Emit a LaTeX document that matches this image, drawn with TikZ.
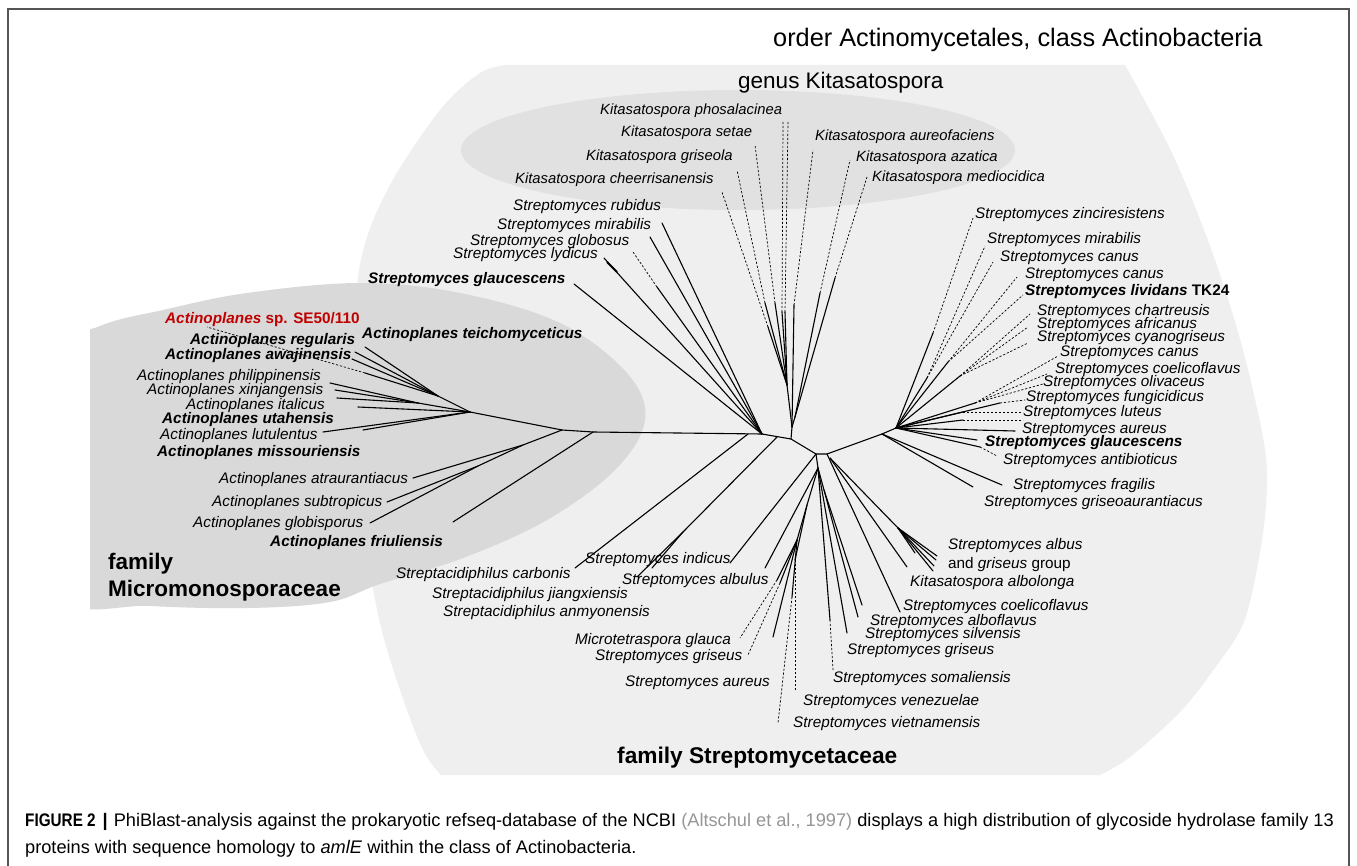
\documentclass[tikz,border=0pt]{standalone}
\usepackage{fontspec}
\setmainfont{Liberation Sans}
\newfontfamily\figfont[FakeStretch=0.84,BoldFont={Liberation Sans Bold}]{Liberation Sans}
\definecolor{lightbg}{RGB}{239,239,239}
\definecolor{darkbg}{RGB}{217,217,217}
\definecolor{kitabg}{RGB}{225,225,225}
\definecolor{redlab}{RGB}{192,0,0}
\definecolor{framec}{RGB}{85,85,85}
\definecolor{citec}{RGB}{150,150,150}
\begin{document}
\begin{tikzpicture}[x=1pt,y=-1pt,
  br/.style={line width=1.1pt, line cap=round, line join=round},
  dl/.style={line width=0.7pt, dash pattern=on 2.2pt off 1.8pt},
  lab/.style={font=\fontsize{15.3}{18}\selectfont\itshape, inner sep=0pt, text height=10pt, text depth=2.8pt, anchor=west},
  klab/.style={lab, font=\fontsize{14.8}{18}\selectfont\itshape},
  blab/.style={lab, font=\fontsize{15.3}{18}\selectfont\bfseries\itshape},
  big/.style={font=\fontsize{22.5}{27}\selectfont, inner sep=0pt, anchor=west},
  bigb/.style={font=\fontsize{22.7}{27}\selectfont\bfseries, inner sep=0pt, anchor=west},
  captxt/.style={font=\fontsize{18.2}{21}\selectfont, inner sep=0pt, anchor=west, text height=12.5pt, text depth=3.8pt}]
\useasboundingbox (0,0) rectangle (1357,866);
\fill[white] (0,0) rectangle (1357,866);
% backgrounds
\fill[lightbg] (507,65) -- (1125,65) -- plot[smooth, tension=0.55] coordinates {(1125,65) (1172,153) (1210,246) (1240,339) (1262,432) (1267,480) (1262,540) (1245,619) (1217,665) (1180,712) (1130,757) (1100,775)} -- (441,775) -- plot[smooth, tension=0.55] coordinates {(441,775) (423,750) (400,690) (380,623) (365,540) (355,450) (352,350) (362,255) (390,185) (440,110) (480,73) (507,65)} -- cycle;
\begin{scope}
\clip (90,0) rectangle (1357,866);
\fill[darkbg] plot[smooth cycle, tension=0.6] coordinates {(40,360) (100,326) (163,310) (247,293) (360,283) (460,293) (560,323) (627,373) (645,420) (615,470) (547,520) (463,558) (380,584) (330,602) (250,608) (150,606) (60,598) (20,480)};
\end{scope}
\fill[kitabg] (738,150) ellipse [x radius=277pt, y radius=60pt];
% frame
\draw[framec, line width=1.5pt] (8,866) -- (8,9) -- (1349,9) -- (1349,866);

% internal nodes
\coordinate (A) at (762,434);
\coordinate (B) at (791,439);
\coordinate (C) at (816,454);
\coordinate (D) at (827,454);
\coordinate (E) at (882,434);
\coordinate (F) at (896,428);
\coordinate (Q) at (777,437);
\coordinate (Cc) at (748,434);
\coordinate (Kb) at (792,427);
\coordinate (K1) at (787,385);
\coordinate (K2) at (795,417);
\coordinate (L0) at (593,432);
\coordinate (L1) at (562,430);
\coordinate (L2) at (470,412);
\coordinate (L3) at (438,396);
\coordinate (L4) at (418,403);
\coordinate (L5) at (523,445);
\coordinate (L6) at (478,466);
\coordinate (Jx) at (683,532);
\coordinate (Ct) at (818,468);
\coordinate (Sb) at (824,490);
\coordinate (M1) at (807,505);
\coordinate (M2) at (797,540);
\coordinate (N0) at (830,458);
\coordinate (N1) at (898,528);
\coordinate (R1) at (933,333);
\coordinate (R2) at (927,378);
\coordinate (R3) at (948,362);
\coordinate (R4) at (960,376);
\coordinate (R5) at (975,403);

% spine
\draw[br] (L2) -- (L1) -- (L0) -- (A) -- (B) -- (C) -- (D) -- (E) -- (F);
\draw[br] (B) -- (Kb);

% Kitasatospora
\draw[br] (Kb) -- (K1);
\draw[br] (Kb) -- (K2);
\draw[br] (K1) -- (768,327) coordinate (kc1); \draw[dl] (kc1) -- (722,192);
\draw[br] (K1) -- (765,303) coordinate (kc2); \draw[dl] (kc2) -- (737,170);
\draw[br] (K1) -- (775,303) coordinate (kc3); \draw[dl] (kc3) -- (755,145);
\draw[br] (K1) -- (782,312) coordinate (kc4); \draw[dl] (kc4) -- (783,122);
\draw[br] (K1) -- (785,312) coordinate (kc5); \draw[dl] (kc5) -- (788,122);
\draw[br] (Kb) -- (794,305) coordinate (kc6); \draw[dl] (kc6) -- (813,150);
\draw[br] (K2) -- (820,293) coordinate (kc7); \draw[dl] (kc7) -- (850,160);
\draw[br] (K2) -- (835,278) coordinate (kc8); \draw[dl] (kc8) -- (867,177);

% upper-left Streptomyces
\draw[br] (A) -- (574,284) coordinate (tGla);
\draw[br] (A) -- (604,258) coordinate (tLyd);
\draw[line width=2pt] (607,262) -- (617,272);
\draw[br] (A) -- (657,287) coordinate (tGlo); \draw[dl] (tGlo) -- (633,252);
\draw[br] (A) -- (650,237) coordinate (tMir);
\draw[br] (A) -- (662,223) coordinate (tRub);

% Actinoplanes
\draw[br] (L0) -- (453,522) coordinate (tFri);
\draw[br] (L1) -- (L5) -- (413,478) coordinate (tAtr);
\draw[br] (L5) -- (L6) -- (387,502) coordinate (tSub);
\draw[br] (L6) -- (370,523) coordinate (tGlb);
\draw[br] (L2) -- (L3);
\draw[br] (L3) -- (365,347) coordinate (tTei);
\draw[br] (L3) -- (355,352) coordinate (tReg);
\draw[br] (L3) -- (352,359) coordinate (tAwa);
\draw[br] (L3) -- (365,373) coordinate (tSE); \draw[dl] (tSE) -- (207,327);
\draw[br] (L2) -- (L4);
\draw[br] (L4) -- (330,383) coordinate (tPhi);
\draw[br] (L4) -- (335,390) coordinate (tXin);
\draw[br] (L4) -- (337,398) coordinate (tIta);
\draw[br] (L2) -- (358,407) coordinate (tIta2);
\draw[br] (L2) -- (323,432) coordinate (tUta);
\draw[br] (L2) -- (363,430) coordinate (tLut);

% bottom-left
\draw[br] (Cc) -- (575,568) coordinate (tCar);
\draw[br] (Q) -- (Jx) -- (637,577) coordinate (tJia);
\draw[br] (Jx) -- (652,568) coordinate (tAnm);
\draw[br] (C) -- (730,563) coordinate (tInd);
\draw[br] (C) -- (Ct);
\draw[br] (Ct) -- (765,568) coordinate (tAlbu);
\draw[br] (Ct) -- (M1) -- (M2);
\draw[br] (M2) -- (777,580) coordinate (tg1); \draw[dl] (tg1) -- (740,638);
\draw[br] (M2) -- (780,583) coordinate (tg2); \draw[dl] (tg2) -- (748,655);
\draw[br] (M2) -- (773,637) coordinate (tAur1);
\draw[br] (M1) -- (795,560) coordinate (tv1); \draw[dl] (tv1) -- (795,690);
\draw[br] (M2) -- (792,597) coordinate (tv2); \draw[dl] (tv2) -- (778,723);
\draw[br] (Ct) -- (830,620) coordinate (tSo); \draw[dl] (tSo) -- (833,670);
\draw[br] (Ct) -- (847,633) coordinate (tGri2);
\draw[br] (Ct) -- (Sb) -- (858,617) coordinate (tSil);
\draw[br] (Sb) -- (862,605) coordinate (tAlf);
\draw[br] (D) -- (900,612) coordinate (tCoe);
\draw[br] (N0) -- (907,567) coordinate (tAlb);
\draw[br] (N0) -- (N1);
\draw[br] (N1) -- (937,556);
\draw[br] (N1) -- (936,560);
\draw[br] (N1) -- (934,566);
\draw[br] (N1) -- (933,571);
\draw[br] (N1) -- (915,553);

% right cluster
\draw[br] (F) -- (R1); \draw[dl] (R1) -- (973,218);
\draw[br] (F) -- (R2); \draw[dl] (R2) -- (985,246); \draw[dl] (R2) -- (993,262);
\draw[br] (F) -- (R3); \draw[dl] (R3) -- (1017,277); \draw[dl] (R3) -- (1023,295);
\draw[br] (F) -- (R4); \draw[dl] (R4) -- (1030,314); \draw[dl] (R4) -- (1028,327); \draw[dl] (R4) -- (1028,343);
\draw[br] (F) -- (R5); \draw[dl] (R5) -- (1058,356); \draw[dl] (R5) -- (1047,374); \draw[dl] (R5) -- (1043,384);
\draw[br] (F) -- (1000,403) coordinate (rf); \draw[dl] (rf) -- (1025,400);
\draw[br] (F) -- (963,412) coordinate (rl1); \draw[dl] (rl1) -- (1023,412);
\draw[br] (F) -- (963,420) coordinate (rl2); \draw[dl] (rl2) -- (1023,420);
\draw[br] (F) -- (1015,431) coordinate (rAu);
\draw[br] (F) -- (977,440) coordinate (rGl);
\draw[br] (F) -- (980,447) coordinate (rAn); \draw[dl] (rAn) -- (997,456);
\draw[br] (E) -- (1002,485) coordinate (rFr);
\draw[br] (E) -- (973,487) coordinate (rGr);

% titles
\node[big, font=\fontsize{25.3}{30}\selectfont] (title) at (773,40) {order Actinomycetales, class Actinobacteria};
\node[big] (genus) at (738,83) {genus Kitasatospora};
\node[bigb] (famSt) at (617,758) {family Streptomycetaceae};
\node[bigb, align=left, font=\fontsize{22.5}{27}\selectfont\bfseries] (famMi) at (108,577) {family\\Micromonosporaceae};

% Kitasatospora labels
\node[klab] (kPhos) at (600,111) {Kitasatospora phosalacinea};
\node[klab] (kSet) at (621,133) {Kitasatospora setae};
\node[klab] (kGris) at (586,157) {Kitasatospora griseola};
\node[klab] (kChe) at (515,180) {Kitasatospora cheerrisanensis};
\node[klab] (kAur) at (815,137) {Kitasatospora aureofaciens};
\node[klab] (kAza) at (856,158) {Kitasatospora azatica};
\node[klab] (kMed) at (872,178) {Kitasatospora mediocidica};

% upper-left labels
\node[lab] (sRub) at (513,207) {Streptomyces rubidus};
\node[lab] (sMir) at (497,226) {Streptomyces mirabilis};
\node[lab] (sGlo) at (470,242) {Streptomyces globosus};
\node[lab] (sLyd) at (453,255) {Streptomyces lydicus};
\node[blab] (sGla) at (368,280) {Streptomyces glaucescens};

% Actinoplanes labels
\node[lab, font=\fontsize{15.3}{18}\selectfont\bfseries, text=redlab] (aSE) at (165,320) {\textit{Actinoplanes} sp. SE50/110};
\node[blab] (aTei) at (362,335) {Actinoplanes teichomyceticus};
\node[blab] (aReg) at (190,341) {Actinoplanes regularis};
\node[blab] (aAwa) at (165,356) {Actinoplanes awajinensis};
\node[lab] (aPhi) at (137,377) {Actinoplanes philippinensis};
\node[lab] (aXin) at (147,391) {Actinoplanes xinjangensis};
\node[lab] (aIta) at (186,406) {Actinoplanes italicus};
\node[blab] (aUta) at (162,420) {Actinoplanes utahensis};
\node[lab] (aLut) at (160,436) {Actinoplanes lutulentus};
\node[blab] (aMis) at (157,453) {Actinoplanes missouriensis};
\node[lab] (aAtr) at (219,480) {Actinoplanes atraurantiacus};
\node[lab] (aSub) at (212,503) {Actinoplanes subtropicus};
\node[lab] (aGlo) at (193,524) {Actinoplanes globisporus};
\node[blab] (aFri) at (270,543) {Actinoplanes friuliensis};

% bottom labels
\node[lab] (sCar) at (396,575) {Streptacidiphilus carbonis};
\node[lab] (sJia) at (432,595) {Streptacidiphilus jiangxiensis};
\node[lab] (sAnm) at (443,613) {Streptacidiphilus anmyonensis};
\node[lab] (sInd) at (585,560) {Streptomyces indicus};
\node[lab] (sAlbu) at (622,581) {Streptomyces albulus};
\node[lab] (mGla) at (575,641) {Microtetraspora glauca};
\node[lab] (sGri1) at (595,657) {Streptomyces griseus};
\node[lab] (sAur1) at (625,683) {Streptomyces aureus};
\node[lab] (sVen) at (803,702) {Streptomyces venezuelae};
\node[lab] (sVie) at (793,724) {Streptomyces vietnamensis};
\node[lab] (sSom) at (833,679) {Streptomyces somaliensis};
\node[lab] (sGri2) at (847,651) {Streptomyces griseus};
\node[lab] (sSil) at (865,635) {Streptomyces silvensis};
\node[lab] (sAlf) at (870,622) {Streptomyces alboflavus};
\node[lab] (sCoe1) at (903,607) {Streptomyces coelicoflavus};
\node[lab] (kAlb) at (910,583) {Kitasatospora albolonga};
\node[lab] (sAlbus) at (948,546) {Streptomyces albus};
\node[lab, font=\fontsize{15.3}{18}\selectfont] (grp) at (948,565) {and \textit{griseus} group};

% right labels
\node[lab] (rZin) at (975,215) {Streptomyces zinciresistens};
\node[lab] (rMir) at (987,240) {Streptomyces mirabilis};
\node[lab] (rCan1) at (1000,258) {Streptomyces canus};
\node[lab] (rCan2) at (1025,275) {Streptomyces canus};
\node[lab, font=\fontsize{15.3}{18}\selectfont\bfseries] (rLiv) at (1025,292) {\textit{Streptomyces lividans} TK24};
\node[lab] (rCha) at (1037,312) {Streptomyces chartreusis};
\node[lab] (rAfr) at (1037,325) {Streptomyces africanus};
\node[lab] (rCya) at (1037,338) {Streptomyces cyanogriseus};
\node[lab] (rCan3) at (1060,353) {Streptomyces canus};
\node[lab] (rCoe) at (1055,370) {Streptomyces coelicoflavus};
\node[lab] (rOli) at (1043,383) {Streptomyces olivaceus};
\node[lab] (rFun) at (1026,398) {Streptomyces fungicidicus};
\node[lab] (rLut) at (1023,413) {Streptomyces luteus};
\node[lab] (rAur) at (1022,430) {Streptomyces aureus};
\node[blab] (rGla) at (985,443) {Streptomyces glaucescens};
\node[lab] (rAnt) at (1003,461) {Streptomyces antibioticus};
\node[lab] (rFra) at (1013,486) {Streptomyces fragilis};
\node[lab] (rGri) at (984,503) {Streptomyces griseoaurantiacus};

% caption
\node[captxt] (cap1) at (25,822) {{\figfont\bfseries FIGURE 2}\hspace{7pt}{\bfseries|}\hspace{6pt}PhiBlast-analysis against the prokaryotic refseq-database of the NCBI {\color{citec}(Altschul et al., 1997)} displays a high distribution of glycoside hydrolase family 13};
\node[captxt] (cap2) at (25,849) {proteins with sequence homology to \textit{amlE} within the class of Actinobacteria.};
\end{tikzpicture}
\end{document}
